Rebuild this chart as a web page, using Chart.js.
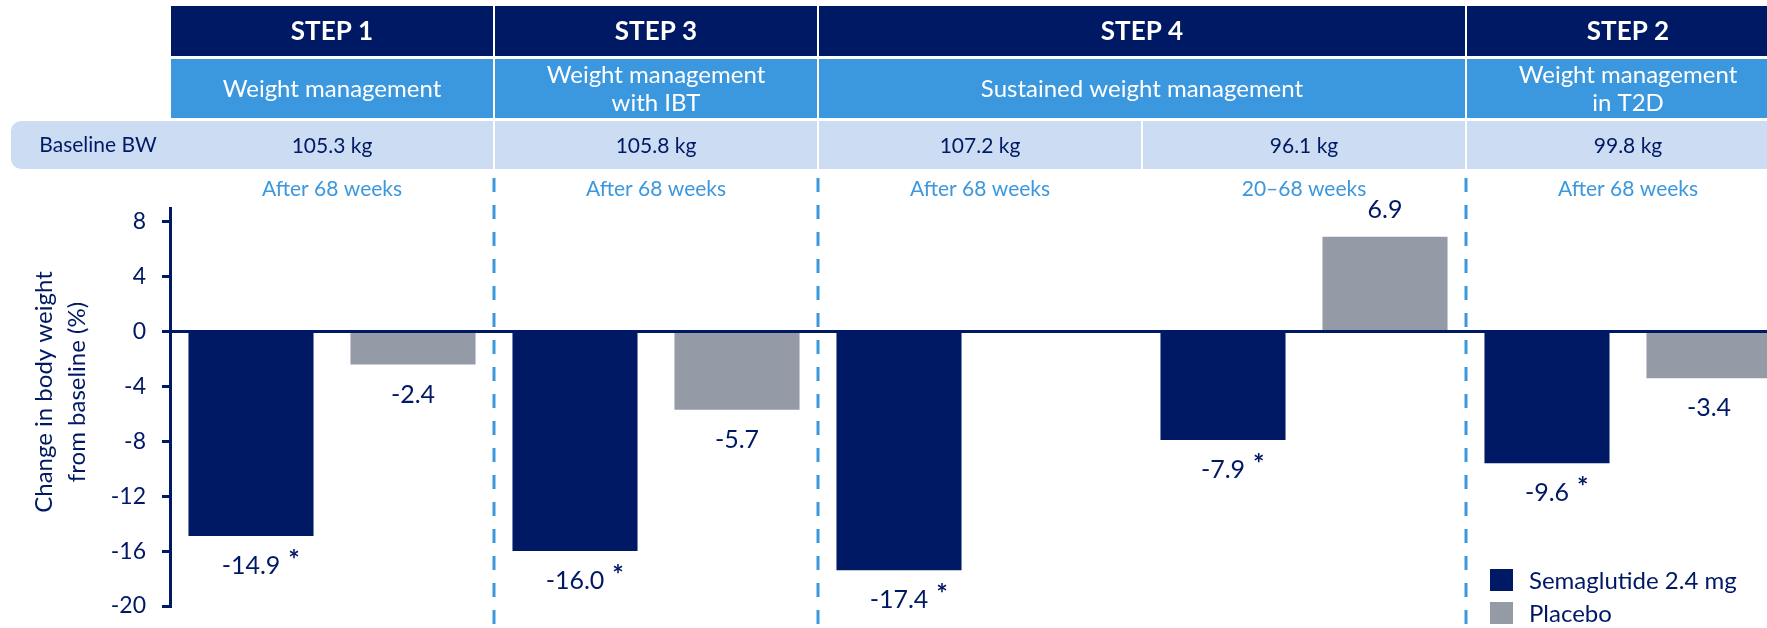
<!DOCTYPE html>
<html>
<head>
<meta charset="utf-8">
<script src="https://cdn.jsdelivr.net/npm/chart.js@4.4.1/dist/chart.umd.min.js"></script>
<style>
  html, body { margin: 0; padding: 0; overflow: hidden; background: #fff; }
  canvas { display: block; }
</style>
</head>
<body>
<canvas id="chart" width="1800" height="628"></canvas>
<script>
const navy = '#001965'
const lightBlue = '#3B97DE'
const paleBlue = '#CCDDF3'
const grey = '#949AA6'
const fontName = 'Lato'

// data
const trials = ['STEP 1', 'STEP 3', 'STEP 4', 'STEP 2']
const trialSpans = [1, 1, 2, 1]   // bar groups covered by each trial
const trialTitles = [['Weight management'], ['Weight management', 'with IBT'], ['Sustained weight management'], ['Weight management', 'in T2D']]
const baselineBW = ['105.3 kg', '105.8 kg', '107.2 kg', '96.1 kg', '99.8 kg']
const periods = ['After 68 weeks', 'After 68 weeks', 'After 68 weeks', '20–68 weeks', 'After 68 weeks']
const semaglutide = [-14.9, -16.0, -17.4, -7.9, -9.6]
const placebo = [-2.4, -5.7, null, 6.9, -3.4]
const semaSig = ['*', '*', '*', '*', '*']
const yTicks = [-20, -16, -12, -8, -4, 0, 4, 8]
const yTitle = ['Change in body weight', 'from baseline (%)']

// x position of the left edge of bar group i
function edge(chart, i) {
  const x = chart.scales.x
  if (i <= 0) return chart.chartArea.left
  if (i >= periods.length) return chart.chartArea.right
  return (x.getPixelForValue(i - 1) + x.getPixelForValue(i)) / 2
}

function lines(ctx, arr, x, y, lh) {
  const y0 = y - (arr.length - 1) * lh / 2
  arr.forEach((t, i) => ctx.fillText(t, x, y0 + i * lh))
}

const headerPlugin = {
  id: 'header',
  beforeDraw(chart) {
    const ctx = chart.ctx
    const W = chart.width
    ctx.save()
    ctx.textAlign = 'center'
    ctx.textBaseline = 'middle'

    // baseline BW band
    ctx.fillStyle = paleBlue
    ctx.beginPath()
    ctx.roundRect(11, 121, W - 11, 48, [10, 0, 0, 10])
    ctx.fill()
    ctx.fillStyle = navy
    ctx.font = '21px ' + fontName
    ctx.fillText('Baseline BW', 98, 145)

    let g = 0
    trials.forEach((t, k) => {
      const x0 = edge(chart, g), x1 = edge(chart, g + trialSpans[k])
      const cx = (x0 + x1) / 2
      ctx.fillStyle = navy
      ctx.fillRect(x0 + 1, 6, x1 - x0 - 2, 50)
      ctx.fillStyle = lightBlue
      ctx.fillRect(x0 + 1, 59, x1 - x0 - 2, 59)
      ctx.fillStyle = '#fff'
      ctx.font = 'bold 26px ' + fontName
      ctx.fillText(t, cx, 32)
      ctx.font = '24px ' + fontName
      lines(ctx, trialTitles[k], cx, 89, 28)
      g += trialSpans[k]
    })

    // separators in the baseline band, values and periods
    periods.forEach((p, i) => {
      const x0 = edge(chart, i), x1 = edge(chart, i + 1)
      const cx = (x0 + x1) / 2
      if (i > 0) {
        ctx.fillStyle = '#fff'
        ctx.fillRect(x0 - 1, 121, 2, 48)
      }
      ctx.fillStyle = navy
      ctx.font = '21px ' + fontName
      ctx.fillText(baselineBW[i], cx, 146)
      ctx.fillStyle = lightBlue
      ctx.fillText(p, cx, 189)
    })

    // dashed lines between trials
    ctx.strokeStyle = lightBlue
    ctx.lineWidth = 3
    ctx.setLineDash([14, 13])
    g = 0
    trials.forEach((t, k) => {
      if (k > 0) {
        const x = edge(chart, g)
        ctx.beginPath()
        ctx.moveTo(x, 178)
        ctx.lineTo(x, chart.height)
        ctx.stroke()
      }
      g += trialSpans[k]
    })
    ctx.setLineDash([])

    // y axis title
    ctx.fillStyle = navy
    ctx.font = '24px ' + fontName
    ctx.translate(61, 392)
    ctx.rotate(-Math.PI / 2)
    lines(ctx, yTitle, 0, 0, 33)
    ctx.restore()
  },
  afterDatasetsDraw(chart) {
    const ctx = chart.ctx
    ctx.save()
    ctx.fillStyle = navy
    ctx.textBaseline = 'middle'
    chart.data.datasets.forEach((ds, d) => {
      chart.getDatasetMeta(d).data.forEach((bar, i) => {
        const v = ds.data[i]
        if (v === null) return
        const y = v < 0 ? bar.y + 30 : bar.y - 27
        ctx.font = '25px ' + fontName
        ctx.textAlign = 'center'
        const s = v.toFixed(1)
        ctx.fillText(s, bar.x, y)
        if (d === 0 && semaSig[i]) {
          const w = ctx.measureText(s).width
          ctx.font = 'bold 27px ' + fontName
          ctx.textAlign = 'left'
          ctx.fillText(semaSig[i], bar.x + w / 2 + 8, y - 6)
        }
      })
    })

    // legend
    const lx = chart.chartArea.right - 300
    const ly = chart.chartArea.bottom - 26
    ctx.font = '24px ' + fontName
    ctx.textAlign = 'left'
    chart.data.datasets.forEach((ds, d) => {
      const y = ly + d * 33
      ctx.fillStyle = ds.backgroundColor
      ctx.fillRect(lx, y - 11, 23, 22)
      ctx.fillStyle = navy
      ctx.fillText(ds.label, lx + 39, y + 1)
    })
    ctx.restore()
  }
}

new Chart(document.getElementById('chart'), {
  type: 'bar',
  data: {
    labels: periods,
    datasets: [
      { label: 'Semaglutide 2.4 mg', data: semaglutide, backgroundColor: navy },
      { label: 'Placebo', data: placebo, backgroundColor: grey }
    ]
  },
  options: {
    responsive: false,
    animation: false,
    categoryPercentage: 1,
    barPercentage: 0.772,
    layout: { padding: { left: 0, right: 10, top: 208, bottom: 22 } },
    plugins: { legend: { display: false }, tooltip: { enabled: false } },
    scales: {
      x: { display: false },
      y: {
        min: -20,
        max: 9,
        z: 1,
        afterBuildTicks: s => { s.ticks = yTicks.map(v => ({ value: v })) },
        afterFit: s => {
          s.width = 170
          s.paddingTop = 0
          s.paddingBottom = 0
        },
        border: { color: navy, width: 3 },
        grid: {
          color: c => c.tick && c.tick.value === 0 ? navy : 'rgba(0,0,0,0)',
          lineWidth: 3,
          tickColor: navy,
          tickWidth: 3,
          tickLength: 8
        },
        ticks: { color: navy, padding: 16, font: { family: fontName, size: 23 } }
      }
    }
  },
  plugins: [headerPlugin]
})
</script>
</body>
</html>
